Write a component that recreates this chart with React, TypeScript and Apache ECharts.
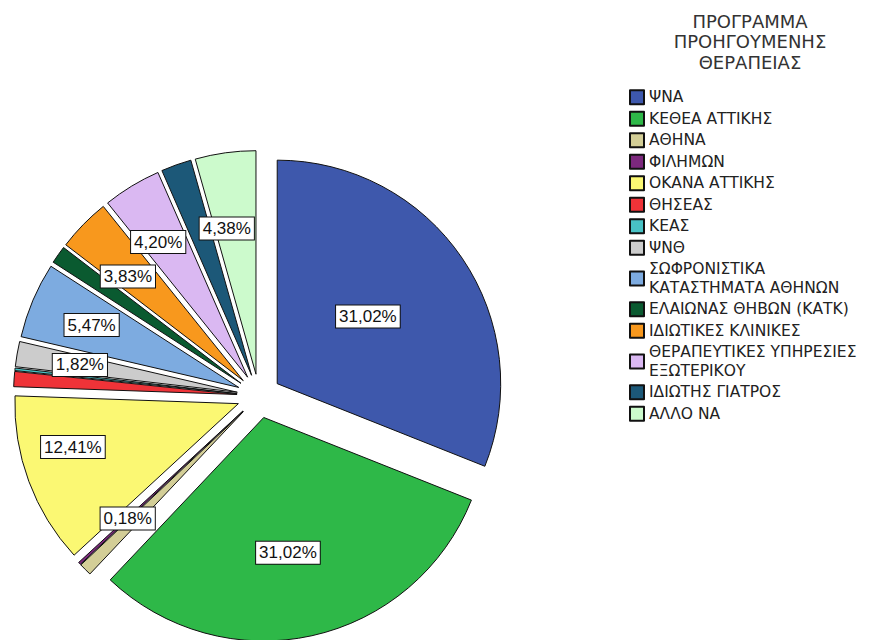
import React, { useEffect, useRef } from "react";
import * as echarts from "echarts";

const categories = [
  "ΨΝΑ",
  "ΚΕΘΕΑ ΑΤΤΙΚΗΣ",
  "ΑΘΗΝΑ",
  "ΦΙΛΗΜΩΝ",
  "ΟΚΑΝΑ ΑΤΤΙΚΗΣ",
  "ΘΗΣΕΑΣ",
  "ΚΕΑΣ",
  "ΨΝΘ",
  "ΣΩΦΡΟΝΙΣΤΙΚΑ\nΚΑΤΑΣΤΗΜΑΤΑ ΑΘΗΝΩΝ",
  "ΕΛΑΙΩΝΑΣ ΘΗΒΩΝ (ΚΑΤΚ)",
  "ΙΔΙΩΤΙΚΕΣ ΚΛΙΝΙΚΕΣ",
  "ΘΕΡΑΠΕΥΤΙΚΕΣ ΥΠΗΡΕΣΙΕΣ\nΕΞΩΤΕΡΙΚΟΥ",
  "ΙΔΙΩΤΗΣ ΓΙΑΤΡΟΣ",
  "ΑΛΛΟ ΝΑ",
];

const shares = [31.02, 31.02, 0.91, 0.18, 12.41, 1.09, 0.18, 1.82, 5.47, 1.28, 3.83, 4.2, 2.19, 4.38];

const showLabel = [true, true, false, true, true, false, false, true, true, false, true, true, false, true];

const colors = [
  "#3E58AC",
  "#2EB848",
  "#D3CE97",
  "#7C287D",
  "#FBF873",
  "#EF3338",
  "#48C2C5",
  "#CCCCCC",
  "#7DABE0",
  "#0A5A30",
  "#F8981D",
  "#DAB8F2",
  "#1C5878",
  "#CCFACC",
];

// label placement (fraction of radius from pie centre, angle nudge in degrees)
const labelRadiusFrac = [0.59, 0.7, 0, 0.79, 0.85, 0, 0, 0.8, 0.8, 0, 0.78, 0.81, 0, 0.75];
const labelAngleShift = [-2, 2, 0, 0, 5, 0, 0, 0, 0, 0, -2, -2, 0, -3];

const CX = 259;
const CY = 396;
const R = 223.5;
const OFFSET = 22;
const FONT = "'Liberation Sans', Arial, sans-serif";
const LEGEND_FONT = "'DejaVu Sans', sans-serif";

export default function App() {
  const ref = useRef<HTMLDivElement>(null);

  useEffect(() => {
    if (!ref.current) return;
    const chart = echarts.init(ref.current, undefined, { renderer: "svg" });

    const mainSeries = {
      type: "pie",
      center: [CX, CY],
      radius: [0, R],
      startAngle: 90,
      clockwise: true,
      selectedMode: "multiple",
      selectedOffset: OFFSET,
      avoidLabelOverlap: false,
      emphasis: { disabled: true },
      itemStyle: { borderColor: "#111111", borderWidth: 1 },
      select: { itemStyle: { borderColor: "#111111", borderWidth: 1 } },
      label: { show: false },
      labelLine: { show: false },
      data: categories.map((name, i) => ({
        name,
        value: shares[i],
        selected: true,
        itemStyle: { color: colors[i] },
      })),
    };

    // one transparent ring per labelled slice, holding that slice's value label
    const labelSeries = categories
      .map((_, i) => i)
      .filter((i) => showLabel[i])
      .map((i) => {
        const d = labelRadiusFrac[i] * R;
        return {
          type: "pie",
          silent: true,
          center: [CX, CY],
          radius: [d - 1, d + 1],
          startAngle: 90 - labelAngleShift[i],
          clockwise: true,
          avoidLabelOverlap: false,
          emphasis: { disabled: true },
          itemStyle: { color: "rgba(0,0,0,0)", borderWidth: 0 },
          labelLine: { show: false },
          label: {
            show: false,
            position: "inside",
            fontFamily: FONT,
            fontSize: 17,
            lineHeight: 19,
            color: "#111111",
            backgroundColor: "#ffffff",
            borderColor: "#111111",
            borderWidth: 1,
            padding: [2, 3, 1, 3],
            formatter: (p: any) => shares[p.dataIndex].toFixed(2).replace(".", ",") + "%",
          },
          data: categories.map((name, j) => ({
            name,
            value: shares[j],
            label: { show: j === i },
          })),
        };
      });

    chart.setOption({
      animation: false,
      backgroundColor: "#ffffff",
      title: {
        text: "ΠΡΟΓΡΑΜΜΑ\nΠΡΟΗΓΟΥΜΕΝΗΣ\nΘΕΡΑΠΕΙΑΣ",
        left: 750,
        top: 11,
        textAlign: "center",
        padding: 0,
        textStyle: {
          fontFamily: LEGEND_FONT,
          fontSize: 18,
          fontWeight: "normal",
          lineHeight: 20.5,
          color: "#333333",
        },
      },
      legend: {
        orient: "vertical",
        left: 629,
        top: 88,
        padding: 0,
        itemWidth: 14,
        itemHeight: 14,
        itemGap: 3,
        icon: "rect",
        selectedMode: false,
        textStyle: {
          fontFamily: LEGEND_FONT,
          fontSize: 15.5,
          lineHeight: 18.5,
          color: "#222222",
        },
        data: categories,
      },
      series: [mainSeries, ...labelSeries],
    });
    return () => chart.dispose();
  }, []);

  return (
    <div
      ref={ref}
      style={{ position: "absolute", left: 0, top: 0, width: 870, height: 640 }}
    />
  );
}
